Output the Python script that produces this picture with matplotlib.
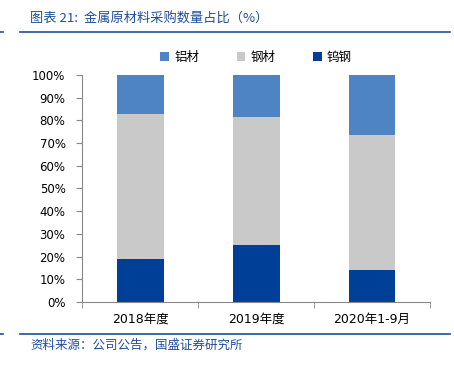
import numpy as np
import matplotlib.pyplot as plt
from matplotlib.lines import Line2D

plt.rcParams['font.family'] = ['DejaVu Sans', 'Noto Sans CJK SC']

categories = ['2018年度', '2019年度', '2020年1-9月']
tungsten = [19, 25, 14]      # 钨钢
steel = [64, 56.5, 59.5]     # 钢材
aluminum = [17, 18.5, 26.5]  # 铝材
series_names = ['铝材', '钢材', '钨钢']
yticks = [0, 10, 20, 30, 40, 50, 60, 70, 80, 90, 100]

c_al = '#4F84C4'
c_st = '#C9C9C9'
c_w = '#003F97'
blue = '#1F4E9A'

fig = plt.figure(figsize=(4.54, 3.66), dpi=100)
ax = fig.add_axes([0.181, 0.175, 0.766, 0.620])

x = np.arange(len(categories))
w = 0.405
b1 = ax.bar(x, tungsten, w, color=c_w, label='钨钢')
b2 = ax.bar(x, steel, w, bottom=tungsten, color=c_st, label='钢材')
bottom2 = np.array(tungsten) + np.array(steel)
b3 = ax.bar(x, aluminum, w, bottom=bottom2, color=c_al, label='铝材')

ax.set_xlim(-0.5, 2.5)
ax.set_ylim(0, 100)
ax.set_yticks(yticks)
ax.set_yticklabels([f'{v}%' for v in yticks], fontsize=8.5)
ax.set_xticks(x)
ax.set_xticklabels(categories, fontsize=9, family=['DejaVu Sans', 'Noto Sans CJK SC'])
ax.tick_params(axis='x', length=0, pad=8)
ax.set_xticks([-0.5, 0.5, 1.5, 2.5], minor=True)
ax.tick_params(axis='x', which='minor', length=4, color='#888888')
ax.tick_params(axis='y', length=4, color='#888888', pad=8)
for s in ['top', 'right']:
    ax.spines[s].set_visible(False)
ax.spines['left'].set_color('#888888')
ax.spines['bottom'].set_color('#888888')

leg = ax.legend([b3, b2, b1], series_names, loc='lower center',
                bbox_to_anchor=(0.5, 1.0), ncol=3, frameon=False,
                handlelength=0.7, handleheight=0.7, columnspacing=3.0,
                handletextpad=0.4,
                prop={'family': ['Noto Sans CJK SC'], 'size': 9})

fig.text(0.066, 0.947, '图表 21:  金属原材料采购数量占比（%）', color=blue,
         fontsize=9.5, style='italic', va='center',
         family=['Noto Sans CJK SC', 'DejaVu Sans'])
fig.add_artist(Line2D([0.044, 0.992], [0.912, 0.912], color=blue, lw=1.2))
fig.add_artist(Line2D([0.0, 0.006], [0.912, 0.912], color=blue, lw=1.2))
fig.add_artist(Line2D([0.044, 0.992], [0.087, 0.087], color=blue, lw=1.2))
fig.add_artist(Line2D([0.0, 0.006], [0.087, 0.087], color=blue, lw=1.2))
fig.text(0.066, 0.058, '资料来源：公司公告，国盛证券研究所', color=blue,
         fontsize=9, style='italic', va='center',
         family=['Noto Sans CJK SC', 'DejaVu Sans'])

fig.savefig('out.png', dpi=100)
